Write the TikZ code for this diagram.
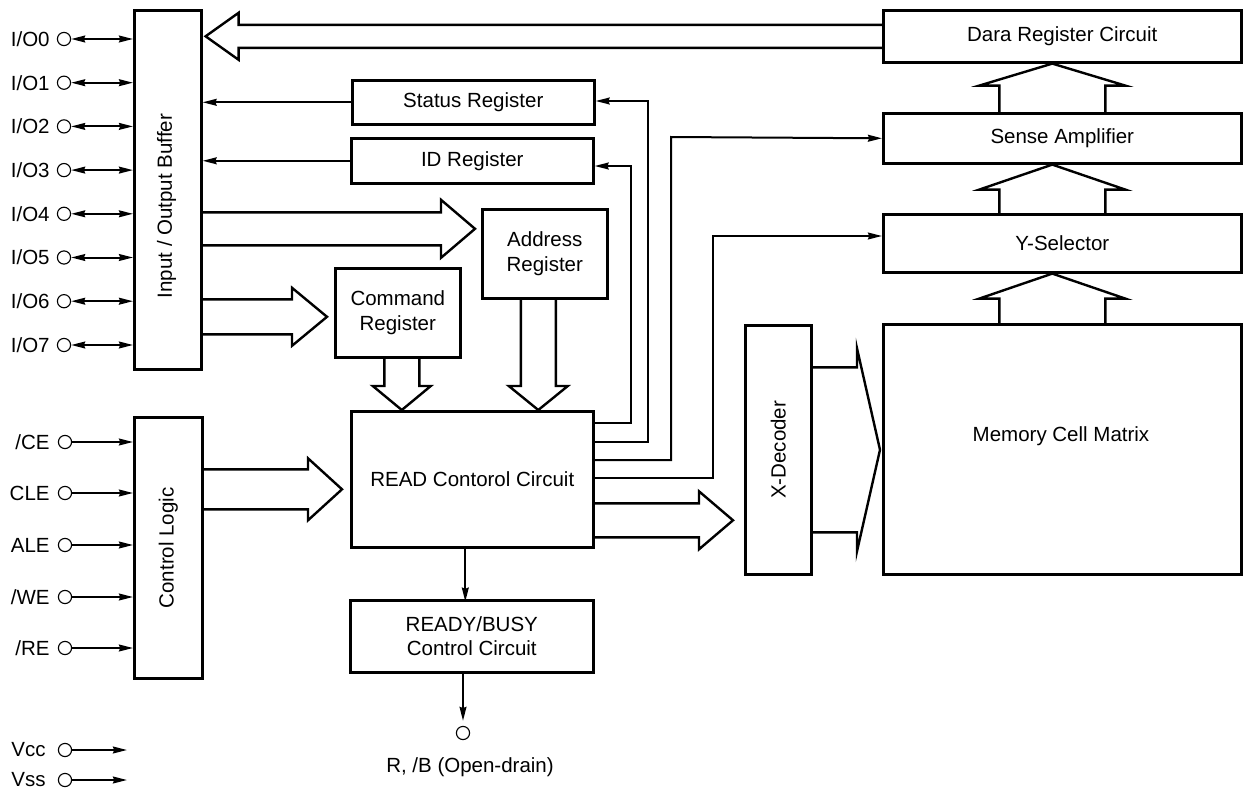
\documentclass[tikz,border=0pt]{standalone}
\usepackage{fontspec}
\setmainfont{Liberation Sans}
\usetikzlibrary{arrows.meta,calc}
% hollow (fat) arrow: #1 start, #2 tip, #3 half shaft, #4 half head, #5 head length
\newcommand\fatarrow[5]{%
  \coordinate (fb) at ($(#2)!#5!(#1)$);
  \draw[fat] ($(#1)!#3!90:(#2)$) -- ($(fb)!#3!90:(#2)$) -- ($(fb)!#4!90:(#2)$) -- (#2)
    -- ($(fb)!#4!-90:(#2)$) -- ($(fb)!#3!-90:(#2)$) -- ($(#1)!#3!-90:(#2)$);}
\begin{document}
\begin{tikzpicture}[x=0.5pt,y=-0.5pt,
  font=\fontsize{10.25pt}{12.25pt}\selectfont,
  box/.style={draw, line width=1.3pt, inner sep=0pt, align=center, anchor=north west},
  wire/.style={line width=1pt},
  arr/.style={-{Stealth[length=7pt,width=3.4pt,inset=0.6pt]}},
  biarr/.style={{Stealth[length=7pt,width=3.4pt,inset=0.6pt]}-{Stealth[length=7pt,width=3.4pt,inset=0.6pt]}},
  fat/.style={line width=1.2pt, line join=miter},
  pin/.style={circle, draw, line width=0.55pt, minimum size=6.6pt, inner sep=0pt},
  lbl/.style={inner sep=0pt}]
\useasboundingbox (0,0) rectangle (1243,803);

% boxes
\node[box, minimum width=33.5pt, minimum height=179.5pt] (buf) at (133,9) {};
\node[rotate=90, lbl] (buftxt) at (166.5,206) {Input / Output Buffer};
\node[box, minimum width=121pt, minimum height=22pt] (status) at (351,79) {Status Register};
\node[box, minimum width=121pt, minimum height=22.5pt] (idr) at (350,137) {ID Register};
\node[box, minimum width=62.5pt, minimum height=44.5pt] (addr) at (481,208) {Address\\Register};
\node[box, minimum width=62.5pt, minimum height=44.5pt] (cmd) at (334,267) {Command\\Register};
\node[box, minimum width=121pt, minimum height=68pt] (read) at (350,410) {READ Contorol Circuit};
\node[box, minimum width=121.5pt, minimum height=36pt] (rb) at (349,599) {READY/BUSY\\Control Circuit};
\node[box, minimum width=34pt, minimum height=130.5pt] (cl) at (133,416) {\rotatebox{90}{Control Logic}};
\node[box, minimum width=33pt, minimum height=124.5pt] (xdec) at (744,324) {\rotatebox{90}{X-Decoder}};
\node[box, minimum width=179pt, minimum height=125pt] (mem) at (882,323) {};
\node[lbl] (memtxt) at (1061,436) {Memory Cell Matrix};
\node[box, minimum width=179pt, minimum height=26pt] (data) at (882,9) {Dara Register Circuit};
\node[box, minimum width=179pt, minimum height=25pt] (sense) at (882,112) {Sense Amplifier};
\node[box, minimum width=179pt, minimum height=29pt] (ysel) at (882,213) {Y-Selector};

% I/O pins
\foreach \i/\y in {0/39,1/82.7,2/126.4,3/170.1,4/213.8,5/257.5,6/301.2,7/345}{
  \node[pin] (io\i) at (64,\y) {};
  \node[lbl, anchor=east] (iol\i) at (50,\y) {I/O\i};
  \draw[wire,biarr] (io\i) -- (io\i -| buf.west);
}

% control pins
\node[pin] (pce) at (65,442) {};  \node[lbl, anchor=east] (lce) at (50,442) {/CE};
\node[pin] (pcle) at (65,493) {}; \node[lbl, anchor=east] (lcle) at (50,493) {CLE};
\node[pin] (pale) at (65,545) {}; \node[lbl, anchor=east] (lale) at (50,545) {ALE};
\node[pin] (pwe) at (65,597) {};  \node[lbl, anchor=east] (lwe) at (50,597) {/WE};
\node[pin] (pre) at (65,648) {};  \node[lbl, anchor=east] (lre) at (50,648) {/RE};
\foreach \p in {pce,pcle,pale,pwe,pre}{
  \draw[wire,arr] (\p) -- (\p -| cl.west);
}

% power pins
\node[pin] (pvcc) at (65,750) {}; \node[lbl, anchor=east] (lvcc) at (46,750) {Vcc};
\node[pin] (pvss) at (65,780) {}; \node[lbl, anchor=east] (lvss) at (46,780) {Vss};
\coordinate (vccend) at (127,750);
\coordinate (vssend) at (127,780);
\draw[wire,arr] (pvcc) -- (vccend);
\draw[wire,arr] (pvss) -- (vssend);

% R/B pin
\node[pin] (rbpin) at (463,733) {};
\node[lbl] (rblbl) at (470,767) {R, /B (Open-drain)};
\draw[wire,arr] ($(read.south)+(-7,0)$) -- ($(read.south)+(-7,53)$);
\draw[wire,arr,shorten >=2.5pt] (rbpin |- rb.south) -- (rbpin.north);

% thin connectors
\draw[wire,arr] (status.west) -- (buf.east |- status.west);
\draw[wire,arr] (idr.west) -- (buf.east |- idr.west);
\draw[wire,arr] ($(read.north east)+(0,13)$) -| (631,166) -- ($(idr.north east)+(0,29)$);
\draw[wire,arr] ($(read.north east)+(0,32)$) -| (648,101) -- ($(status.north east)+(0,22)$);
\draw[wire,arr] ($(read.north east)+(0,50)$) -| (671,137) -- (sense.west);
\draw[wire,arr] ($(read.north east)+(0,68)$) -| (713,236) -- ($(ysel.north west)+(0,23)$);

% hollow bus arrows
\coordinate (f1t) at ($(buf.east |- data.west)+(3,0)$);
\fatarrow{data.west}{f1t}{5.75pt}{11.75pt}{16.5pt}
\coordinate (f2t) at ($(addr.west)+(-6,-25)$);
\coordinate (f2s) at (buf.east |- f2t);
\fatarrow{f2s}{f2t}{8.25pt}{14.5pt}{17pt}
\coordinate (f3t) at ($(cmd.west)+(-7,4)$);
\coordinate (f3s) at (buf.east |- f3t);
\fatarrow{f3s}{f3t}{8.75pt}{14.5pt}{17.5pt}
\coordinate (f4s) at ($(cmd.south)+(4,0)$);
\coordinate (f4t) at (f4s |- read.north);
\fatarrow{f4s}{f4t}{8.75pt}{14.5pt}{12pt}
\coordinate (f5s) at ($(addr.south)+(-6.5,0)$);
\coordinate (f5t) at (f5s |- read.north);
\fatarrow{f5s}{f5t}{8.75pt}{14.75pt}{12pt}
\coordinate (f6t) at ($(read.west)+(-8,10)$);
\coordinate (f6s) at (cl.east |- f6t);
\fatarrow{f6s}{f6t}{10pt}{15.5pt}{17pt}
\coordinate (f7t) at ($(xdec.west)+(-11,70.5)$);
\coordinate (f7s) at (read.east |- f7t);
\fatarrow{f7s}{f7t}{8.5pt}{14.5pt}{17pt}
\coordinate (f8t) at ($(mem.west |- xdec.east)+(-2,0)$);
\fatarrow{xdec.east}{f8t}{41.25pt}{50.75pt}{11.5pt}
\coordinate (f9s) at ($(mem.north)+(-10,0)$);
\coordinate (f9t) at (f9s |- ysel.south);
\fatarrow{f9s}{f9t}{26.5pt}{36.5pt}{12.5pt}
\coordinate (f10s) at ($(ysel.north)+(-10,0)$);
\coordinate (f10t) at (f10s |- sense.south);
\fatarrow{f10s}{f10t}{26.5pt}{36.5pt}{12.5pt}
\coordinate (f11s) at ($(sense.north)+(-10,0)$);
\coordinate (f11t) at (f11s |- data.south);
\fatarrow{f11s}{f11t}{26.5pt}{36.5pt}{11pt}
\end{tikzpicture}
\end{document}
